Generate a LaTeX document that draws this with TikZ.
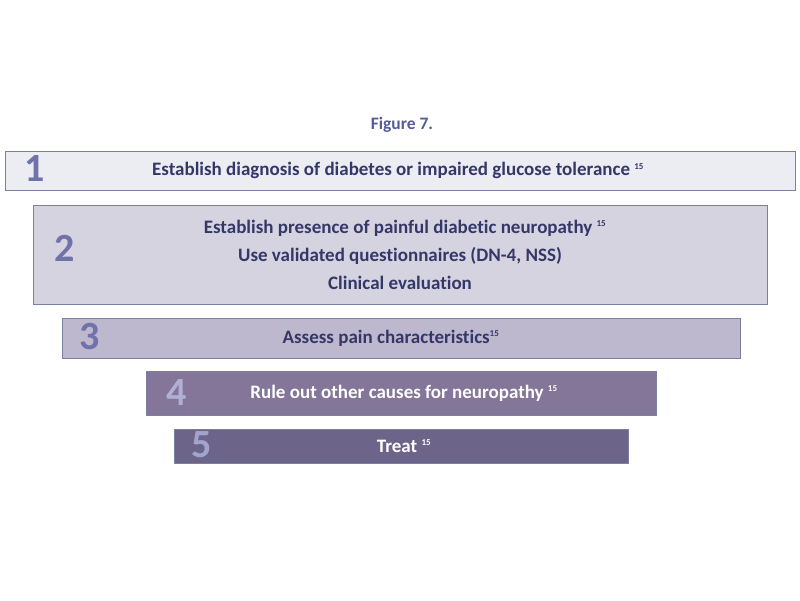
\documentclass[tikz,border=0pt]{standalone}
\usepackage{fontspec}
\setmainfont{Carlito}[Ligatures=NoCommon]
\usetikzlibrary{positioning,calc}
\definecolor{navy}{RGB}{52,56,104}
\definecolor{title}{RGB}{84,90,158}
\definecolor{edge}{RGB}{124,126,166}
\definecolor{numcol}{RGB}{112,114,172}
\definecolor{numpale}{RGB}{176,176,214}
\definecolor{stepa}{RGB}{236,236,243}
\definecolor{stepb}{RGB}{213,211,224}
\definecolor{stepc}{RGB}{189,184,206}
\definecolor{stepd}{RGB}{131,118,152}
\definecolor{stepe}{RGB}{109,101,137}

\tikzset{
  stepbox/.style={draw=edge,line width=0.9pt,inner sep=0pt,align=center,
    font=\fontsize{19}{28}\selectfont\bfseries,text=navy},
  num/.style={font=\fontsize{40}{40}\selectfont\bfseries,text=numcol,inner sep=0pt},
}
\newcommand{\refnum}{\textsuperscript{\fontsize{9}{9}\selectfont 15}}

\begin{document}
\begin{tikzpicture}[x=1pt,y=-1pt]
  \useasboundingbox (0,0) rectangle (800,600);
  \node[text=title,font=\fontsize{17.5}{17.5}\selectfont\bfseries] (fig) at (402,125) {Figure 7.};
  \node[stepbox,fill=stepa,minimum width=790pt,minimum height=39pt] (s1) at (400,170.5)
    {\hspace*{-4pt}Establish diagnosis of diabetes or impaired glucose tolerance \refnum};
  \node[stepbox,fill=stepb,minimum width=734pt,minimum height=99pt] (s2) at (400,254.5)
    {\hspace*{10pt}Establish presence of painful diabetic neuropathy \refnum\\
     Use validated questionnaires (DN-4, NSS)\\
     Clinical evaluation};
  \node[stepbox,fill=stepc,minimum width=678pt,minimum height=40pt] (s3) at (401,338)
    {\hspace*{-20pt}Assess pain characteristics\refnum};
  \node[stepbox,fill=stepd,text=white,minimum width=510pt,minimum height=44pt] (s4) at (401,393)
    {\hspace*{6pt}Rule out other causes for neuropathy \refnum};
  \node[stepbox,fill=stepe,text=white,minimum width=454pt,minimum height=34pt] (s5) at (401,446)
    {\hspace*{6pt}Treat \refnum};
  % step numbers
  \node[num] (n1) at ($(s1.west)+(30,-2)$) {1};
  \node[num] (n2) at ($(s2.west)+(32,-6)$) {2};
  \node[num] (n3) at ($(s3.west)+(28,-1)$) {3};
  \node[num,text=numpale] (n4) at ($(s4.west)+(31,0)$) {4};
  \node[num,text=numpale!80!numcol] (n5) at ($(s5.west)+(28,-1)$) {5};
\end{tikzpicture}
\end{document}
